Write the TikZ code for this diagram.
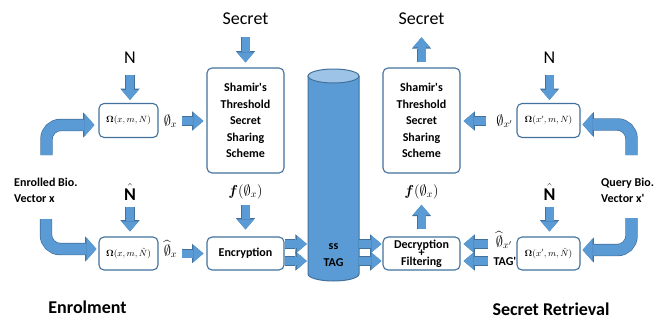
\documentclass[tikz,border=0pt]{standalone}
\usepackage{amsmath,amssymb}
\usepackage[no-math]{fontspec}
\setmainfont{Carlito}[Ligatures=TeXOff]
\usetikzlibrary{arrows.meta,positioning,calc}
\definecolor{fatblue}{HTML}{5B9BD5}
\definecolor{edgeblue}{HTML}{41719C}
\definecolor{capblue}{HTML}{9DC3E6}
\newcommand{\hatN}{$\hat{\text{\bfseries N}}$}
\tikzset{
  blk/.style={draw=edgeblue,line width=1.1pt,rounded corners=5pt,fill=white,
    inner sep=2pt,align=center,font=\bfseries\fontsize{12}{16.5}\selectfont},
  omg/.style={blk,font=\fontsize{9}{10}\selectfont},
  lbl/.style={inner sep=0pt,font=\fontsize{18}{20}\selectfont},
  mlbl/.style={inner sep=0pt,font=\fontsize{14}{16}\selectfont},
  side/.style={inner sep=0pt,align=left,font=\bfseries\fontsize{12}{16}\selectfont},
  ttl/.style={inner sep=0pt,font=\bfseries\fontsize{18}{20}\selectfont},
  fat/.style={draw=fatblue,line width=8pt,
    -{Triangle[length=10pt,width=17pt,line width=0pt 0 0]},
    preaction={draw=edgeblue,line width=9.4pt,
      -{Triangle[length=11.4pt,width=19.4pt,line width=0pt 0 0]}}},
  bigfat/.style={draw=fatblue,line width=11pt,rounded corners=14pt,
    -{Triangle[length=10pt,width=23pt,line width=0pt 0 0]},
    preaction={draw=edgeblue,line width=12.4pt,
      -{Triangle[length=11.4pt,width=25.4pt,line width=0pt 0 0]}}},
}
\begin{document}
\begin{tikzpicture}[x=1pt,y=-1pt]
  \useasboundingbox (0,0) rectangle (667,322);
  \fill[fatblue] (308,76) -- (308,274) arc[start angle=180,end angle=0,x radius=25.5,y radius=7] -- (359,76) -- cycle;
  \draw[edgeblue,line width=1pt] (308,76) -- (308,274) arc[start angle=180,end angle=0,x radius=25.5,y radius=7] -- (359,76);
  \draw[edgeblue,line width=1pt,fill=capblue] (333.5,76) ellipse[x radius=25.5,y radius=7];
  \node[inner sep=0pt,minimum width=51pt,align=center,font=\bfseries\fontsize{12}{17}\selectfont] (tag) at (333.5,255) {ss\\TAG};

  \node[blk,minimum width=77pt,minimum height=105pt] (sh1) at (245.5,120.5) {Shamir's\\Threshold\\Secret\\Sharing\\Scheme};
  \node[blk,minimum width=77pt,minimum height=33pt] (enc) at (245.5,253.5) {Encryption};
  \node[blk,minimum width=77pt,minimum height=105pt] (sh2) at (421.5,120.5) {Shamir's\\Threshold\\Secret\\Sharing\\Scheme};
  \node[blk,minimum width=77pt,minimum height=33pt,
    font={\bfseries\fontsize{12}{8.5}\selectfont\lineskiplimit=-50pt}] (dec) at (421.5,253.5) {Decryption\\+\\Filtering};
  \node[omg,minimum width=59pt,minimum height=34pt] (om1) at (128.5,120.5) {$\mathbf{\Omega}(x,m,N)$};
  \node[omg,minimum width=59pt,minimum height=33pt] (om2) at (128.5,253.5) {$\mathbf{\Omega}(x,m,\hat{N})$};
  \node[omg,minimum width=63pt,minimum height=34pt] (om3) at (548.5,120.5) {$\mathbf{\Omega}(x',m,N)$};
  \node[omg,minimum width=63pt,minimum height=33pt] (om4) at (548.5,253.5) {$\mathbf{\Omega}(x',m,\hat{N})$};

  \node[lbl,anchor=base] (sec1) at (245.5,24) {Secret};
  \node[lbl,anchor=base] (sec2) at (421.5,24) {Secret};
  \node[lbl,anchor=base] (n1) at (130,63) {N};
  \node[lbl,anchor=base] (n3) at (549.5,63) {N};
  \node[ttl,anchor=base] (nh2) at (130,200) {\hatN};
  \node[ttl,anchor=base] (nh4) at (549.5,200) {\hatN};
  \node[mlbl,anchor=base] (f1) at (245.5,195) {$\boldsymbol{f}(\emptyset_x)$};
  \node[mlbl,anchor=base] (f2) at (421.5,195) {$\boldsymbol{f}(\emptyset_x)$};
  \node[mlbl] (p1) at (170.5,121) {$\emptyset_x$};
  \node[mlbl] (p2) at (170.5,249) {$\widehat{\emptyset}_x$};
  \node[mlbl] (p3) at (504.5,121) {$\emptyset_{x'}$};
  \node[mlbl] (p4) at (504,240) {$\widehat{\emptyset}_{x'}$};
  \node[side] (tg) at (505,261) {TAG'};
  \node[side,anchor=west] (enr) at (14,190) {Enrolled Bio.\\Vector x};
  \node[side,anchor=west] (qry) at (601,190) {Query Bio.\\Vector x'};
  \node[ttl] (t1) at (87.5,307) {Enrolment};
  \node[ttl] (t2) at (551,309) {Secret Retrieval};

  \coordinate (c1) at (46.5,155);
  \coordinate (c2) at (46,219);
  \coordinate (c3) at (631.5,155);
  \coordinate (c4) at (631.5,218);

  \draw[bigfat,shorten >=4pt] (c1) |- ([yshift=-4.5pt]om1.west);
  \draw[bigfat,shorten >=2pt] (c2) |- ([yshift=4.5pt]om2.west);
  \draw[bigfat,shorten >=2pt] (c3) |- ([yshift=-4pt]om3.east);
  \draw[bigfat,shorten >=2pt] (c4) |- ([yshift=3.5pt]om4.east);

  \draw[fat,shorten <=13pt,shorten >=5pt] (sec1) -- (sh1);
  \draw[fat,shorten <=12pt,shorten >=3pt] (n1) -- (n1 |- om1.north);
  \draw[fat,shorten <=7pt,shorten >=5pt] (nh2) -- (nh2 |- om2.north);
  \draw[fat,shorten <=5pt,shorten >=3pt] (p1) -- (p1 -| sh1.west);
  \draw[fat,shorten <=5pt,shorten >=3pt] (p2.east |- enc) -- (enc.west);
  \draw[fat,shorten <=6pt,shorten >=7pt] (f1) -- (enc);
  \draw[fat,shorten >=1pt] ([yshift=9.5pt]enc.east) -- ([yshift=9.5pt]enc.east -| tag.west);
  \draw[fat,shorten >=1pt] ([yshift=-7.5pt]enc.east) -- ([yshift=-7.5pt]enc.east -| tag.west);
  \draw[fat,shorten >=1pt] ([yshift=9.5pt]dec.west -| tag.east) -- ([yshift=9.5pt]dec.west);
  \draw[fat,shorten >=1pt] ([yshift=-7.5pt]dec.west -| tag.east) -- ([yshift=-7.5pt]dec.west);
  \draw[fat,shorten <=5pt,shorten >=13pt] (sh2) -- (sec2);
  \draw[fat,shorten <=7pt,shorten >=6pt] (dec) -- (f2);
  \draw[fat,shorten <=12pt,shorten >=3pt] (n3) -- (n3 |- om3.north);
  \draw[fat,shorten <=7pt,shorten >=5pt] (nh4) -- (nh4 |- om4.north);
  \draw[fat,shorten <=10pt,shorten >=3pt] (p3) -- (p3 -| sh2.east);
  \draw[fat,shorten <=6pt,shorten >=3pt] ([yshift=9.5pt]dec.east -| tg.west) -- ([yshift=9.5pt]dec.east);
  \draw[fat,shorten <=6pt,shorten >=3pt] ([yshift=-7.5pt]dec.east -| tg.west) -- ([yshift=-7.5pt]dec.east);
\end{tikzpicture}
\end{document}
